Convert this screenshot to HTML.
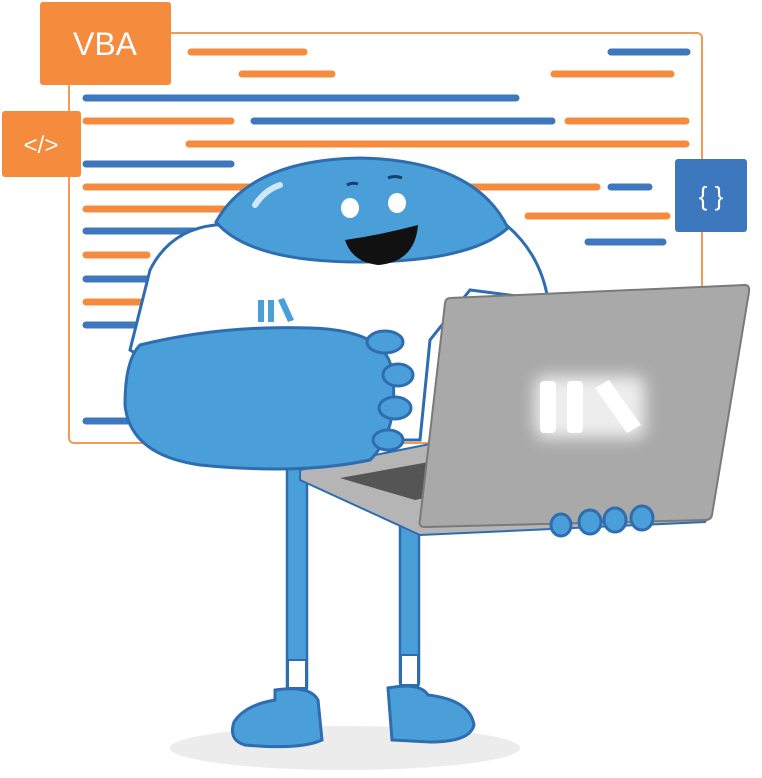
<!DOCTYPE html>
<html><head><meta charset="utf-8"><style>html,body{margin:0;padding:0;background:#fff}svg{display:block}</style></head>
<body>
<svg width="762" height="778" viewBox="0 0 762 778" xmlns="http://www.w3.org/2000/svg" font-family="Liberation Sans, sans-serif">
<defs><filter id="gl" x="-50%" y="-50%" width="200%" height="200%"><feGaussianBlur stdDeviation="8"/></filter></defs>
<rect x="69" y="33" width="633" height="410" rx="5" fill="#fff" stroke="#f39a55" stroke-width="2"/>
<g stroke-linecap="round" stroke-width="7">
<g stroke="#f58b3c">
<line x1="191" y1="52" x2="304" y2="52"/><line x1="242" y1="74" x2="332" y2="74"/><line x1="554" y1="74" x2="671" y2="74"/>
<line x1="86" y1="121" x2="231" y2="121"/><line x1="568" y1="121" x2="686" y2="121"/>
<line x1="189" y1="144" x2="686" y2="144"/>
<line x1="86" y1="187" x2="250" y2="187"/><line x1="470" y1="187" x2="597" y2="187"/>
<line x1="86" y1="209" x2="230" y2="209"/><line x1="528" y1="216" x2="667" y2="216"/>
<line x1="86" y1="255" x2="147" y2="255"/><line x1="86" y1="302" x2="147" y2="302"/>
</g>
<g stroke="#3d77be">
<line x1="611" y1="52" x2="687" y2="52"/><line x1="86" y1="98" x2="516" y2="98"/>
<line x1="254" y1="121" x2="552" y2="121"/><line x1="86" y1="164" x2="231" y2="164"/>
<line x1="611" y1="187" x2="649" y2="187"/><line x1="86" y1="231" x2="220" y2="231"/>
<line x1="588" y1="242" x2="663" y2="242"/><line x1="86" y1="279" x2="160" y2="279"/>
<line x1="86" y1="325" x2="140" y2="325"/><line x1="86" y1="421" x2="150" y2="421"/>
</g></g>
<rect x="40" y="2" width="131" height="83" rx="3" fill="#f58b3c"/>
<text x="105" y="55" font-size="32" fill="#fff" text-anchor="middle">VBA</text>
<rect x="2" y="111" width="79" height="66" rx="3" fill="#f58b3c"/>
<text x="41" y="153" font-size="24" fill="#fff" text-anchor="middle">&lt;/&gt;</text>
<rect x="675" y="159" width="72" height="73" rx="3" fill="#3d77be"/>
<text x="711" y="205" font-size="26" fill="#fff" text-anchor="middle">{ }</text>
<ellipse cx="345" cy="748" rx="175" ry="22" fill="#ececec"/>
<g fill="#4a9fd8" stroke="#2e6db0" stroke-width="2.5">
<rect x="287" y="460" width="20" height="235" rx="8"/>
<rect x="400" y="460" width="19" height="230" rx="8"/>
</g>
<rect x="288" y="660" width="18" height="28" fill="#fff" stroke="#2e6db0" stroke-width="2"/>
<rect x="401" y="655" width="17" height="30" fill="#fff" stroke="#2e6db0" stroke-width="2"/>
<g fill="#4a9fd8" stroke="#2e6db0" stroke-width="3">
<path d="M275 690 Q310 685 318 700 L322 740 Q300 750 245 745 Q228 740 234 722 Q245 705 275 700 Z"/>
<path d="M388 688 Q420 682 428 695 Q470 700 474 725 Q470 742 430 742 L392 740 Z"/>
</g>
<path d="M215 225 Q170 230 150 270 L130 350 Q160 370 210 365 L230 440 L420 440 L430 340 L470 290 L548 300 Q540 250 500 220 Z" fill="#fff" stroke="#2e6db0" stroke-width="3"/>
<path d="M216 222 Q250 160 360 158 Q475 160 508 228 Q470 262 360 262 Q250 262 216 222 Z" fill="#4a9fd8" stroke="#2e6db0" stroke-width="3"/>
<path d="M255 205 Q265 190 280 185" stroke="#cfe7f7" stroke-width="6" fill="none" stroke-linecap="round"/>
<ellipse cx="350" cy="208" rx="9" ry="10" fill="#fff"/><ellipse cx="397" cy="203" rx="9" ry="10" fill="#fff"/>
<path d="M347 185 Q352 182 358 184 M388 178 Q395 175 402 178" stroke="#1a3f6e" stroke-width="3" fill="none"/>
<path d="M345 240 Q380 235 418 225 Q415 262 378 265 Q352 262 345 240 Z" fill="#111"/>
<g fill="#4a9fd8"><rect x="258" y="300" width="6" height="22"/><rect x="268" y="300" width="6" height="22"/><path d="M278 300 l6 -2 l10 22 l-6 2 z"/></g>
<text x="255" y="335" font-size="10" fill="#2e6db0">КУРСЫ</text>
<path d="M300 470 L450 440 L712 508 L705 522 L420 535 L300 480 Z" fill="#b5b5b5" stroke="#2e6db0" stroke-width="2"/>
<path d="M340 478 L440 460 L520 480 L415 500 Z" fill="#555"/>
<path d="M140 345 Q220 325 310 328 Q385 330 392 370 Q400 430 370 460 Q300 475 200 465 Q130 455 125 405 Q125 360 140 345 Z" fill="#4a9fd8" stroke="#2e6db0" stroke-width="3"/>
<g fill="#4a9fd8" stroke="#2e6db0" stroke-width="3">
<ellipse cx="385" cy="342" rx="18" ry="11"/><ellipse cx="398" cy="375" rx="15" ry="11"/><ellipse cx="395" cy="408" rx="16" ry="11"/><ellipse cx="388" cy="440" rx="15" ry="10"/>
</g>
<path d="M450 298 L745 285 Q750 285 749 292 L712 515 Q711 520 705 520 L425 527 Q418 527 420 520 L445 303 Q446 298 450 298 Z" fill="#a9a9a9" stroke="#7a7a7a" stroke-width="2"/>
<g fill="#fff" filter="url(#gl)" opacity="0.8"><rect x="535" y="376" width="110" height="62" rx="10"/></g>
<g fill="#fff"><rect x="540" y="381" width="16" height="52" rx="4"/><rect x="567" y="381" width="16" height="52" rx="4"/><path d="M595 388 l14 -8 l32 45 l-14 8 z"/></g>
<g fill="#4a9fd8" stroke="#2e6db0" stroke-width="3">
<ellipse cx="561" cy="525" rx="10" ry="11"/><ellipse cx="590" cy="522" rx="11" ry="12"/><ellipse cx="615" cy="520" rx="11" ry="12"/><ellipse cx="642" cy="518" rx="11" ry="12"/>
</g>
</svg>
</body></html>
